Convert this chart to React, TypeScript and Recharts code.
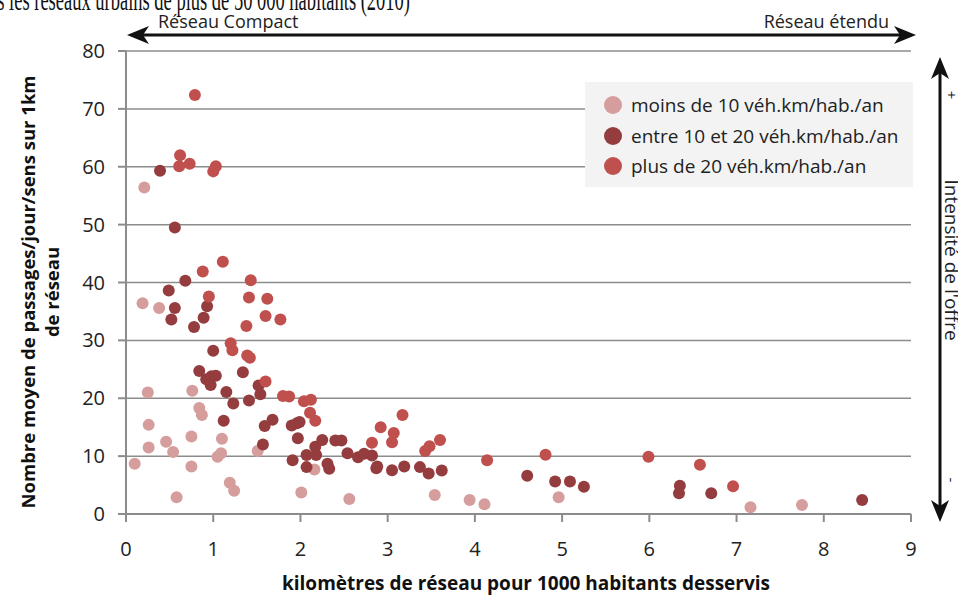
import {
  ScatterChart,
  Scatter,
  XAxis,
  YAxis,
  CartesianGrid,
  Legend,
} from 'recharts'

// moins de 10 véh.km/hab./an
const lowX = [0.21, 0.19, 0.38, 0.25, 0.76, 0.84, 0.87, 0.26, 0.46, 0.26, 0.54, 0.75, 1.1, 1.05, 1.09, 0.1, 0.75, 0.58, 1.19, 1.24, 1.51, 2.16, 2.01, 2.56, 3.54, 3.94, 4.11, 4.96, 7.16, 7.75]
const lowY = [56.4, 36.4, 35.6, 21.0, 21.3, 18.3, 17.1, 15.4, 12.5, 11.5, 10.7, 13.4, 13.0, 9.9, 10.5, 8.7, 8.2, 2.9, 5.4, 4.0, 10.9, 7.7, 3.7, 2.6, 3.3, 2.4, 1.7, 2.9, 1.15, 1.55]

// entre 10 et 20 véh.km/hab./an
const midX = [0.39, 0.56, 0.68, 0.49, 0.56, 0.93, 0.52, 0.89, 0.78, 1.0, 0.84, 1.34, 0.92, 0.97, 0.98, 1.03, 1.52, 1.54, 1.15, 1.23, 1.41, 1.12, 1.68, 1.59, 1.9, 1.96, 1.99, 1.57, 1.97, 1.91, 2.07, 2.17, 2.18, 2.07, 2.25, 2.31, 2.33, 2.4, 2.47, 2.54, 2.66, 2.73, 2.82, 2.87, 2.88, 3.05, 3.19, 3.37, 3.47, 3.62, 4.6, 4.92, 5.09, 5.25, 6.35, 6.34, 6.71, 8.44]
const midY = [59.3, 49.5, 40.3, 38.6, 35.6, 35.9, 33.6, 33.9, 32.3, 28.2, 24.7, 24.5, 23.3, 22.3, 23.8, 23.9, 22.2, 20.7, 21.1, 19.1, 19.6, 16.1, 16.3, 15.2, 15.3, 15.7, 15.9, 12.0, 13.1, 9.3, 10.2, 11.6, 10.2, 8.1, 12.8, 8.7, 7.8, 12.7, 12.7, 10.5, 9.8, 10.4, 10.1, 7.9, 8.2, 7.55, 8.2, 8.1, 7.0, 7.5, 6.6, 5.6, 5.6, 4.7, 4.9, 3.6, 3.6, 2.4]

// plus de 20 véh.km/hab./an
const highX = [0.79, 0.62, 0.61, 0.73, 1.03, 1.0, 1.11, 0.88, 1.43, 0.95, 1.41, 1.62, 1.6, 1.77, 1.38, 1.2, 1.22, 1.39, 1.42, 1.6, 1.8, 1.87, 2.04, 2.12, 2.11, 2.17, 2.82, 2.92, 3.07, 3.05, 3.17, 3.43, 3.48, 3.6, 4.14, 4.81, 5.99, 6.58, 6.96]
const highY = [72.4, 62.0, 60.1, 60.5, 60.1, 59.2, 43.6, 41.9, 40.4, 37.6, 37.4, 37.2, 34.2, 33.6, 32.5, 29.5, 28.3, 27.4, 27.0, 22.9, 20.4, 20.3, 19.5, 19.75, 17.5, 16.1, 12.3, 15.0, 14.0, 12.4, 17.1, 10.9, 11.7, 12.8, 9.3, 10.25, 9.9, 8.5, 4.8]

const xTicks = [0, 1, 2, 3, 4, 5, 6, 7, 8, 9]
const yTicks = [0, 10, 20, 30, 40, 50, 60, 70, 80]

const seriesNames = [
  'moins de 10 véh.km/hab./an',
  'entre 10 et 20 véh.km/hab./an',
  'plus de 20 véh.km/hab./an',
]
const seriesColors = ['#d59d9c', '#943c3e', '#c0504d']

const toPoints = (xs: number[], ys: number[]) => xs.map((x, i) => ({ x, y: ys[i] }))
const seriesData = [toPoints(lowX, lowY), toPoints(midX, midY), toPoints(highX, highY)]

const FONT = '"Open Sans", sans-serif'
const GRAY = '#8c8c8c'

const dot = (color: string) => (props: any) => (
  <circle cx={props.cx} cy={props.cy} r={6} fill={color} />
)

function LegendBox() {
  return (
    <div
      style={{
        background: '#f2f3f2',
        width: 328,
        height: 105,
        boxSizing: 'border-box',
        padding: '8px 0 0 18px',
        fontFamily: FONT,
        fontSize: 19,
        color: '#222',
        whiteSpace: 'nowrap',
      }}
    >
      {seriesNames.map((name, i) => (
        <div key={name} style={{ display: 'flex', alignItems: 'center', height: 30.5 }}>
          <svg width={22} height={22} style={{ marginRight: 6 }}>
            <circle cx={10} cy={11} r={9} fill={seriesColors[i]} />
          </svg>
          <span>{name}</span>
        </div>
      ))}
    </div>
  )
}

function Annotations() {
  return (
    <svg
      width={958}
      height={595}
      style={{ position: 'absolute', left: 0, top: 0, pointerEvents: 'none' }}
    >
      <text
        transform="translate(410,10) scale(0.74,1.25)"
        textAnchor="end"
        fontFamily='"Liberation Serif", serif'
        fontSize={25}
        fill="#111"
      >
        dans les réseaux urbains de plus de 50 000 habitants (2010)
      </text>

      {/* horizontal arrow */}
      <line x1={138} y1={35} x2={905} y2={35} stroke="#111" strokeWidth={3} />
      <polygon points="127,35 149,26 143,35 149,44" fill="#111" />
      <polygon points="916,35 894,26 900,35 894,44" fill="#111" />
      <text x={158} y={28} fontFamily={FONT} fontSize={18} fill="#222">
        Réseau Compact
      </text>
      <text x={889} y={28} textAnchor="end" fontFamily={FONT} fontSize={18} fill="#222">
        Réseau étendu
      </text>

      {/* vertical arrow */}
      <line x1={940} y1={68} x2={940} y2={510} stroke="#111" strokeWidth={3} />
      <polygon points="940,57 931,79 940,73 949,79" fill="#111" />
      <polygon points="940,522 931,500 940,506 949,500" fill="#111" />
      <text
        transform="translate(946,95) rotate(90)"
        textAnchor="middle"
        fontFamily={FONT}
        fontSize={15}
        fill="#222"
      >
        +
      </text>
      <text
        transform="translate(945,260) rotate(90)"
        textAnchor="middle"
        fontFamily={FONT}
        fontSize={19}
        fill="#222"
      >
        Intensité de l'offre
      </text>
      <text
        transform="translate(946,480) rotate(90)"
        textAnchor="middle"
        fontFamily={FONT}
        fontSize={15}
        fill="#222"
      >
        -
      </text>

      {/* axis titles */}
      <text
        transform="translate(35,292) rotate(-90)"
        textAnchor="middle"
        fontFamily={FONT}
        fontWeight="bold"
        fontSize={18.5}
        fill="#111"
      >
        Nombre moyen de passages/jour/sens sur 1km
      </text>
      <text
        transform="translate(59,292) rotate(-90)"
        textAnchor="middle"
        fontFamily={FONT}
        fontWeight="bold"
        fontSize={18.5}
        fill="#111"
      >
        de réseau
      </text>
      <text
        x={526}
        y={590}
        textAnchor="middle"
        fontFamily={FONT}
        fontWeight="bold"
        fontSize={19}
        fill="#111"
      >
        kilomètres de réseau pour 1000 habitants desservis
      </text>
    </svg>
  )
}

export default function App() {
  return (
    <div
      style={{
        position: 'absolute',
        left: 0,
        top: 0,
        width: 958,
        height: 595,
        background: '#fff',
        overflow: 'hidden',
      }}
    >
      <ScatterChart
        width={958}
        height={595}
        margin={{ top: 51, right: 47, left: 0, bottom: 0 }}
      >
        <CartesianGrid vertical={false} stroke={GRAY} strokeWidth={1.5} />
        <XAxis
          type="number"
          dataKey="x"
          domain={[0, 9]}
          ticks={xTicks}
          interval={0}
          height={81}
          stroke={GRAY}
          strokeWidth={2}
          tickSize={8}
          tickMargin={20}
          tick={{ fill: '#222', fontSize: 20, fontFamily: FONT }}
        />
        <YAxis
          type="number"
          dataKey="y"
          domain={[0, 80]}
          ticks={yTicks}
          interval={0}
          width={126}
          stroke={GRAY}
          strokeWidth={2}
          tickSize={8}
          tickMargin={13}
          tick={{ fill: '#222', fontSize: 20, fontFamily: FONT }}
        />
        <Legend
          layout="vertical"
          align="center"
          verticalAlign="middle"
          wrapperStyle={{ position: 'absolute', left: 585, top: 82, width: 328, height: 105 }}
          content={() => <LegendBox />}
        />
        {seriesData.map((data, i) => (
          <Scatter
            key={seriesNames[i]}
            name={seriesNames[i]}
            data={data}
            fill={seriesColors[i]}
            shape={dot(seriesColors[i])}
            isAnimationActive={false}
          />
        ))}
      </ScatterChart>
      <Annotations />
    </div>
  )
}
